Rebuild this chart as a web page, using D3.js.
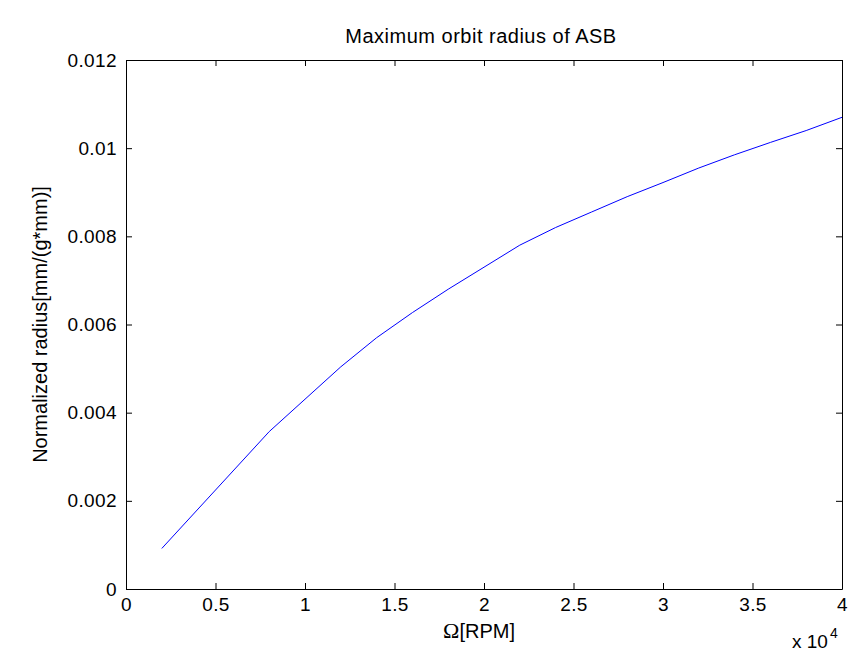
<!DOCTYPE html>
<html>
<head>
<meta charset="utf-8">
<script src="https://cdn.jsdelivr.net/npm/d3@7"></script>
<style>
  html, body { margin: 0; padding: 0; background: #fff; }
  svg { display: block; }
  text { font-family: "Liberation Sans", Arial, sans-serif; fill: #000; }
</style>
</head>
<body>
<svg id="chart" width="864" height="664"></svg>
<script>
// ---- data ----
const rpm = [2000, 8000, 12000, 14000, 16000, 18000, 20000, 22000, 24000, 26000, 28000, 30000, 32000, 34000, 36000, 38000, 40000];
const radius = [0.00092, 0.00357, 0.00504, 0.0057, 0.00627, 0.0068, 0.0073, 0.0078, 0.0082, 0.00855, 0.0089, 0.00922, 0.00955, 0.00985, 0.01013, 0.0104, 0.0107];
const xTicks = [0, 5000, 10000, 15000, 20000, 25000, 30000, 35000, 40000];
const xTickLabels = ["0", "0.5", "1", "1.5", "2", "2.5", "3", "3.5", "4"];
const yTicks = [0, 0.002, 0.004, 0.006, 0.008, 0.01, 0.012];
const yTickLabels = ["0", "0.002", "0.004", "0.006", "0.008", "0.01", "0.012"];
const titleText = "Maximum orbit radius of ASB";
const yLabelText = "Normalized radius[mm/(g*mm)]";

// ---- layout ----
const L = 126, R = 842, T = 60, B = 589;
const svg = d3.select("#chart");
const x = d3.scaleLinear().domain([0, 40000]).range([L, R]);
const y = d3.scaleLinear().domain([0, 0.012]).range([B, T]);
const tickLen = 6;

// line
const line = d3.line().x((d, i) => x(rpm[i])).y(d => y(d));
svg.append("path")
  .attr("d", line(radius))
  .attr("fill", "none")
  .attr("stroke", "#0000ff")
  .attr("stroke-width", 1);

// axes
const axB = d3.axisBottom(x).tickValues(xTicks).tickSize(-tickLen).tickSizeOuter(0)
  .tickFormat((d, i) => xTickLabels[i]).tickPadding(9);
const axT = d3.axisTop(x).tickValues(xTicks).tickSize(-tickLen).tickSizeOuter(0).tickFormat("");
const axL = d3.axisLeft(y).tickValues(yTicks).tickSize(-tickLen).tickSizeOuter(0)
  .tickFormat((d, i) => yTickLabels[i]).tickPadding(9);
const axR = d3.axisRight(y).tickValues(yTicks).tickSize(-tickLen).tickSizeOuter(0).tickFormat("");

function style(g) {
  g.select(".domain").attr("stroke", "#000").attr("stroke-width", 1);
  g.selectAll(".tick line").attr("stroke", "#000").attr("stroke-width", 1);
  g.selectAll(".tick text").attr("font-family", "Liberation Sans, Arial, sans-serif")
    .attr("font-size", 19).attr("fill", "#000").style("letter-spacing", "0.4px");
}
svg.append("g").attr("transform", `translate(0,${B})`).call(axB).call(style);
svg.append("g").attr("transform", `translate(0,${T})`).call(axT).call(style);
svg.append("g").attr("transform", `translate(${L},0)`).call(axL).call(style);
svg.append("g").attr("transform", `translate(${R},0)`).call(axR).call(style);

// title
svg.append("text")
  .attr("x", 481).attr("y", 43)
  .attr("text-anchor", "middle")
  .attr("font-size", 20)
  .style("letter-spacing", "0.5px")
  .text(titleText);

// y label
svg.append("text")
  .attr("transform", `translate(47,${(T + B) / 2}) rotate(-90)`)
  .attr("text-anchor", "middle")
  .attr("font-size", 20)
  .text(yLabelText);

// x label
const xl = svg.append("text")
  .attr("x", 479).attr("y", 638)
  .attr("text-anchor", "middle")
  .attr("font-size", 20);
xl.append("tspan").style("font-family", "Liberation Serif, serif").attr("font-size", 22).text("Ω");
xl.append("tspan").text("[RPM]");

// exponent
const ex = svg.append("text")
  .attr("x", 792).attr("y", 648)
  .attr("font-size", 19);
ex.append("tspan").text("x 10");
ex.append("tspan").attr("dy", -10).attr("font-size", 14).attr("dx", 2).text("4");
</script>
</body>
</html>
